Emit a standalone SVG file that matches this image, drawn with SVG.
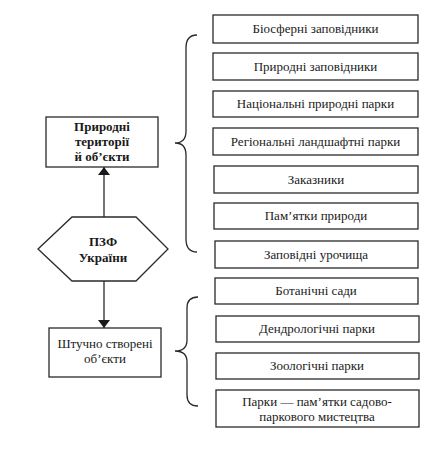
<svg xmlns="http://www.w3.org/2000/svg" width="442" height="453" viewBox="0 0 442 453">
<style>
.box{fill:#fff;stroke:#2a2a2a;stroke-width:1.3}
.t{font-family:"Liberation Serif","DejaVu Serif",serif;font-size:13px;fill:#1a1a1a;text-anchor:middle}
.b{font-weight:bold}
.ln{fill:none;stroke:#2a2a2a;stroke-width:1.3}
</style>
<defs>
<marker id="ah" viewBox="0 0 8 12" refX="8" refY="6" markerWidth="8" markerHeight="12" markerUnits="userSpaceOnUse" orient="auto">
<path d="M0,0 L8,6 L0,12 Z" fill="#1a1a1a"/>
</marker>
</defs>
<rect width="442" height="453" fill="#fff"/>
<g id="connectors">
<line class="ln" x1="104" y1="217" x2="104" y2="167" marker-end="url(#ah)"/>
<line class="ln" x1="104" y1="281" x2="104" y2="328" marker-end="url(#ah)"/>
<path class="ln" d="M197,35 Q186,35 186,48 L186,131 Q186,143 175,143 Q186,143 186,155 L186,239 Q186,252 197,252"/>
<path class="ln" d="M198,297 Q187,297 187,308 L187,340 Q187,351 175,351 Q187,351 187,362 L187,395 Q187,406 198,406"/>
</g>
<g id="pzf">
<polygon class="box" points="72,217 136,217 168,249 136,281 72,281 38,249"/>
<text class="t b" x="103" y="246">ПЗФ</text>
<text class="t b" x="103" y="262">України</text>
</g>
<g id="natural">
<rect class="box" x="46" y="117" width="112" height="50"/>
<text class="t b" x="102" y="131">Природні</text>
<text class="t b" x="102" y="146">території</text>
<text class="t b" x="102" y="161">й об’єкти</text>
</g>
<g id="artificial">
<rect class="box" x="49" y="328" width="112" height="49"/>
<text class="t" x="105" y="348">Штучно створені</text>
<text class="t" x="105" y="363">об’єкти</text>
</g>
<g id="r1"><rect class="box" x="213" y="15" width="205" height="28"/><text class="t" x="315.5" y="33">Біосферні заповідники</text></g>
<g id="r2"><rect class="box" x="213" y="53" width="205" height="27"/><text class="t" x="315.5" y="70.5">Природні заповідники</text></g>
<g id="r3"><rect class="box" x="213" y="91" width="205" height="26"/><text class="t" x="315.5" y="108">Національні природні парки</text></g>
<g id="r4"><rect class="box" x="213" y="128" width="205" height="27"/><text class="t" x="315.5" y="145.5">Регіональні ландшафтні парки</text></g>
<g id="r5"><rect class="box" x="214" y="166" width="204" height="27"/><text class="t" x="316" y="183.5">Заказники</text></g>
<g id="r6"><rect class="box" x="214" y="203" width="204" height="26"/><text class="t" x="316" y="220">Пам’ятки природи</text></g>
<g id="r7"><rect class="box" x="215" y="241" width="203" height="27"/><text class="t" x="316" y="258.5">Заповідні урочища</text></g>
<g id="r8"><rect class="box" x="215" y="278" width="203" height="26"/><text class="t" x="316" y="295">Ботанічні сади</text></g>
<g id="r9"><rect class="box" x="216" y="316" width="203" height="26"/><text class="t" x="317" y="333">Дендрологічні парки</text></g>
<g id="r10"><rect class="box" x="216" y="353" width="203" height="26"/><text class="t" x="317" y="370">Зоологічні парки</text></g>
<g id="r11"><rect class="box" x="216" y="390" width="203" height="37"/><text class="t" x="317" y="406">Парки — пам’ятки садово-</text><text class="t" x="317" y="421">паркового мистецтва</text></g>
</svg>
